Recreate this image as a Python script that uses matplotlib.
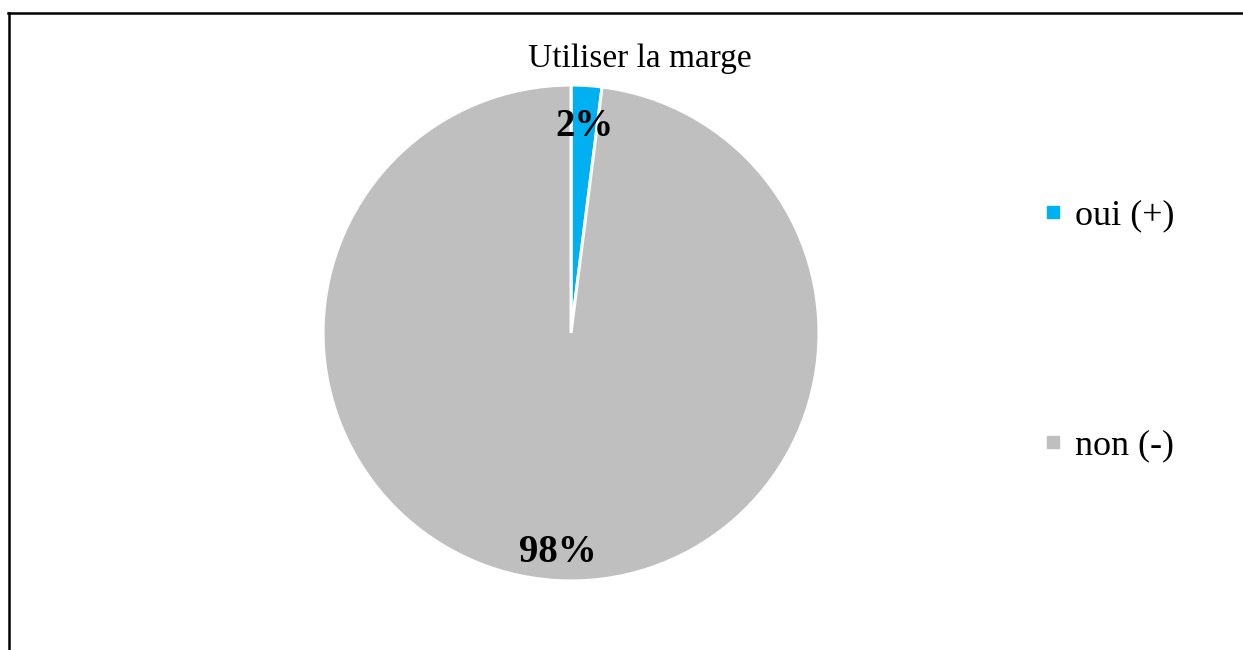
import matplotlib
matplotlib.use("Agg")
import matplotlib.pyplot as plt
from matplotlib.lines import Line2D

# donnees
categories = ["oui (+)", "non (-)"]
valeurs = [2, 98]
couleurs = ["#00B0F0", "#BFBFBF"]
titre = "Utiliser la marge"

plt.rcParams["font.family"] = ["Liberation Serif", "DejaVu Serif"]

fig = plt.figure(figsize=(12.43, 6.5), dpi=100)
ax = fig.add_axes([0.2599, 0.1062, 0.399, 0.763])

wedges, textes, autotextes = ax.pie(
    valeurs, colors=couleurs, startangle=90, counterclock=False,
    autopct=lambda p: f"{p:.0f}%", pctdistance=0.86,
    wedgeprops=dict(edgecolor="white", linewidth=2.2),
    textprops=dict(fontsize=28, fontweight="bold", color="black"))
# etiquettes un peu plus bas, comme dans Excel
for t in autotextes:
    x, y = t.get_position()
    t.set_position((x, y - 0.025))
ax.set_xlim(-1, 1)
ax.set_ylim(-1, 1)
ax.set_aspect("equal")

fig.text(0.5148, 0.91, titre, ha="center", va="center", fontsize=24)

# legende a droite
poignees = [Line2D([], [], linestyle="none", marker="s", markersize=9,
                   markerfacecolor=c, markeredgecolor=c) for c in couleurs]
fig.legend(poignees, categories, loc="center left", bbox_to_anchor=(0.814, 0.491),
           frameon=False, fontsize=26, handlelength=0.5, handletextpad=0.35,
           labelspacing=5.45)

# cadre (haut et gauche)
fig.add_artist(Line2D([8 / 1243, 1], [1 - 13 / 650, 1 - 13 / 650],
                      transform=fig.transFigure, color="black", linewidth=1.8))
fig.add_artist(Line2D([9 / 1243, 9 / 1243], [0, 1 - 13 / 650],
                      transform=fig.transFigure, color="black", linewidth=1.8))

fig.savefig("out.png", dpi=100)
